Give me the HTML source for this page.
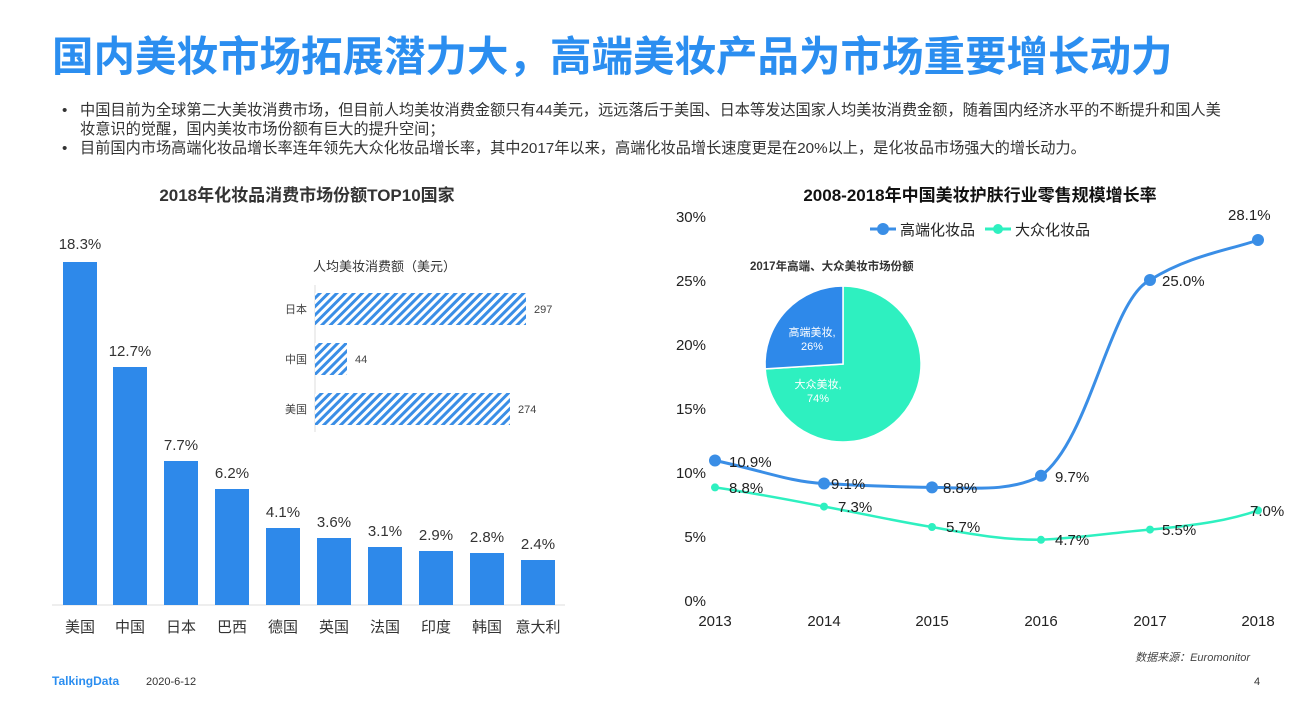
<!DOCTYPE html>
<html><head><meta charset="utf-8"><style>
body{margin:0;width:1313px;height:712px;background:#fff;overflow:hidden;font-family:"Liberation Sans","Noto Sans CJK SC",sans-serif;}
</style></head><body>
<svg width="1313" height="712" xmlns="http://www.w3.org/2000/svg" font-family="Liberation Sans, Noto Sans CJK SC, sans-serif">
<defs>
<pattern id="h" width="6" height="6" patternUnits="userSpaceOnUse" patternTransform="rotate(45)">
<rect width="6" height="6" fill="#fff"/><rect width="3" height="6" fill="#3a8ee6"/></pattern>
</defs>
<text x="52" y="71" font-size="41.5" font-weight="bold" fill="#2b8ef0">国内美妆市场拓展潜力大，高端美妆产品为市场重要增长动力</text>
<g font-size="15.2" fill="#333">
<text x="62" y="115">•</text><text x="80" y="115">中国目前为全球第二大美妆消费市场，但目前人均美妆消费金额只有44美元，远远落后于美国、日本等发达国家人均美妆消费金额，随着国内经济水平的不断提升和国人美</text>
<text x="80" y="134">妆意识的觉醒，国内美妆市场份额有巨大的提升空间；</text>
<text x="62" y="153">•</text><text x="80" y="153">目前国内市场高端化妆品增长率连年领先大众化妆品增长率，其中2017年以来，高端化妆品增长速度更是在20%以上，是化妆品市场强大的增长动力。</text>
</g>
<text x="307" y="201" font-size="17" font-weight="bold" fill="#333" text-anchor="middle">2018年化妆品消费市场份额TOP10国家</text>
<line x1="52" y1="605" x2="565" y2="605" stroke="#ddd"/>
<g fill="#2e89ea">
<rect x="63" y="262" width="34" height="343"/><rect x="113" y="367" width="34" height="238"/>
<rect x="164" y="461" width="34" height="144"/><rect x="215" y="489" width="34" height="116"/>
<rect x="266" y="528" width="34" height="77"/><rect x="317" y="538" width="34" height="67"/>
<rect x="368" y="547" width="34" height="58"/><rect x="419" y="551" width="34" height="54"/>
<rect x="470" y="553" width="34" height="52"/><rect x="521" y="560" width="34" height="45"/>
</g>
<g font-size="15" fill="#333" text-anchor="middle">
<text x="80" y="249">18.3%</text><text x="130" y="356">12.7%</text><text x="181" y="450">7.7%</text><text x="232" y="478">6.2%</text><text x="283" y="517">4.1%</text><text x="334" y="527">3.6%</text><text x="385" y="536">3.1%</text><text x="436" y="540">2.9%</text><text x="487" y="542">2.8%</text><text x="538" y="549">2.4%</text>
<text x="80" y="632">美国</text><text x="130" y="632">中国</text><text x="181" y="632">日本</text><text x="232" y="632">巴西</text><text x="283" y="632">德国</text><text x="334" y="632">英国</text><text x="385" y="632">法国</text><text x="436" y="632">印度</text><text x="487" y="632">韩国</text><text x="538" y="632">意大利</text>
</g>
<rect x="300" y="282" width="270" height="150" fill="#fff"/>
<text x="313" y="271" font-size="13" fill="#333">人均美妆消费额（美元）</text>
<line x1="315" y1="285" x2="315" y2="432" stroke="#ddd"/>
<rect x="315" y="293" width="211" height="32" fill="url(#h)"/>
<rect x="315" y="343" width="32" height="32" fill="url(#h)"/>
<rect x="315" y="393" width="195" height="32" fill="url(#h)"/>
<g font-size="11" fill="#444">
<text x="307" y="313" text-anchor="end">日本</text><text x="307" y="363" text-anchor="end">中国</text><text x="307" y="413" text-anchor="end">美国</text>
<text x="534" y="313">297</text><text x="355" y="363">44</text><text x="518" y="413">274</text>
</g>
<text x="980" y="201" font-size="17" font-weight="bold" fill="#111" text-anchor="middle">2008-2018年中国美妆护肤行业零售规模增长率</text>
<g font-size="15" fill="#222" text-anchor="end">
<text x="706" y="222">30%</text><text x="706" y="286">25%</text><text x="706" y="350">20%</text><text x="706" y="414">15%</text><text x="706" y="478">10%</text><text x="706" y="542">5%</text><text x="706" y="606">0%</text>
</g>
<g font-size="15" fill="#222" text-anchor="middle">
<text x="715" y="626">2013</text><text x="824" y="626">2014</text><text x="932" y="626">2015</text><text x="1041" y="626">2016</text><text x="1150" y="626">2017</text><text x="1258" y="626">2018</text>
</g>
<line x1="870" y1="229" x2="896" y2="229" stroke="#3a8ee6" stroke-width="3"/><circle cx="883" cy="229" r="6" fill="#3a8ee6"/>
<text x="900" y="235" font-size="15" fill="#222">高端化妆品</text>
<line x1="985" y1="229" x2="1011" y2="229" stroke="#2ef0c0" stroke-width="3"/><circle cx="998" cy="229" r="5" fill="#2ef0c0"/>
<text x="1015" y="235" font-size="15" fill="#222">大众化妆品</text>
<path d="M715,460.5 C760,470 790,482 824,483.5 C870,486 900,487 932,487.4 C975,488 1010,492 1041,475.8 C1090,440 1110,300 1150,280 C1190,255 1230,250 1258,240" fill="none" stroke="#3a8ee6" stroke-width="3"/>
<path d="M715,487.4 C760,494 790,500 824,506.6 C870,515 900,522 932,527 C975,535 1005,540 1041,539.8 C1080,538 1110,533 1150,529.6 C1200,525 1230,520 1258,510.4" fill="none" stroke="#2ef0c0" stroke-width="2.5"/>
<g fill="#3a8ee6"><circle cx="715" cy="460.5" r="6"/><circle cx="824" cy="483.5" r="6"/><circle cx="932" cy="487.4" r="6"/><circle cx="1041" cy="475.8" r="6"/><circle cx="1150" cy="280" r="6"/><circle cx="1258" cy="240" r="6"/></g>
<g fill="#2ef0c0"><circle cx="715" cy="487.4" r="4"/><circle cx="824" cy="506.6" r="4"/><circle cx="932" cy="527" r="4"/><circle cx="1041" cy="539.8" r="4"/><circle cx="1150" cy="529.6" r="4"/><circle cx="1258" cy="510.4" r="4"/></g>
<g font-size="15" fill="#222">
<text x="729" y="467">10.9%</text><text x="831" y="489">9.1%</text><text x="943" y="493">8.8%</text><text x="1055" y="482">9.7%</text><text x="1162" y="286">25.0%</text><text x="1228" y="220">28.1%</text>
<text x="729" y="493">8.8%</text><text x="838" y="512">7.3%</text><text x="946" y="532">5.7%</text><text x="1055" y="545">4.7%</text><text x="1162" y="535">5.5%</text><text x="1250" y="516">7.0%</text>
</g>
<text x="750" y="270" font-size="11.5" font-weight="bold" fill="#333">2017年高端、大众美妆市场份额</text>
<path d="M843,364 L843,286 A78,78 0 1,1 765.2,368.9 Z" fill="#2ef0c0" stroke="#fff" stroke-width="1.5"/>
<path d="M843,364 L765.2,368.9 A78,78 0 0,1 843,286 Z" fill="#2e89ea" stroke="#fff" stroke-width="1.5"/>
<g font-size="11" fill="#fff" text-anchor="middle">
<text x="812" y="336">高端美妆,</text><text x="812" y="350">26%</text>
<text x="818" y="388">大众美妆,</text><text x="818" y="402">74%</text>
</g>
<text x="1250" y="661" font-size="11" font-style="italic" fill="#444" text-anchor="end">数据来源：Euromonitor</text>
<text x="52" y="685" font-size="12" font-weight="bold" fill="#2b8ef0">TalkingData</text>
<text x="146" y="685" font-size="11" fill="#333">2020-6-12</text>
<text x="1254" y="685" font-size="11" fill="#333">4</text>
</svg>
</body></html>
